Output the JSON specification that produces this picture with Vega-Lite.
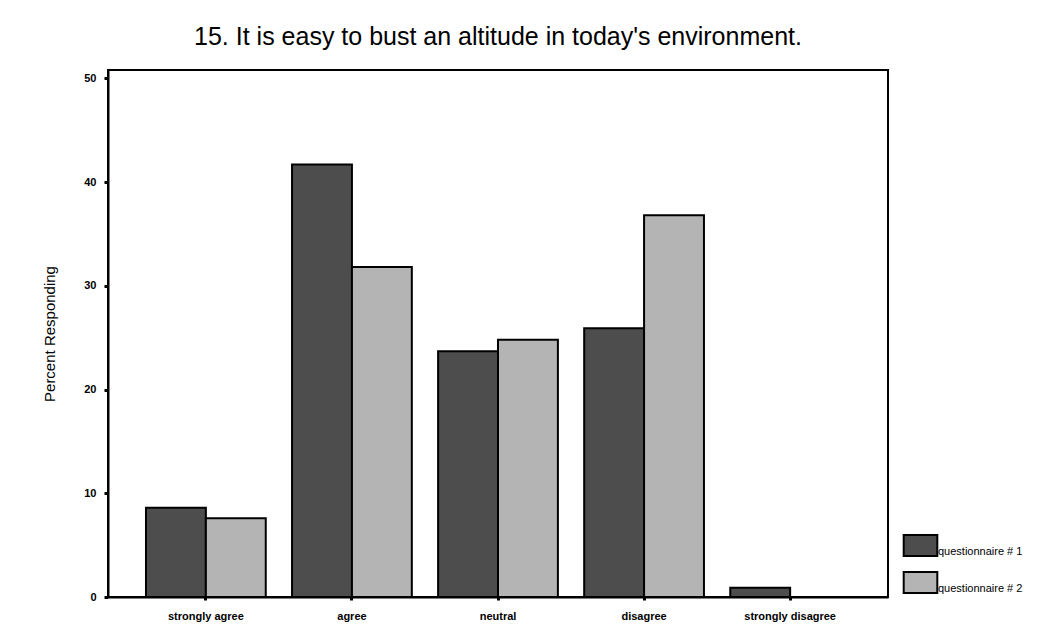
{
  "$schema": "https://vega.github.io/schema/vega-lite/v6.json",
  "autosize": "none",
  "width": 780,
  "height": 527,
  "padding": {"left": 108, "top": 70, "right": 164, "bottom": 42},
  "background": "white",
  "config": {
    "font": "Liberation Sans",
    "view": {"stroke": "black", "strokeWidth": 2}
  },
  "title": {
    "text": "15.  It is easy to bust an altitude in today's environment.",
    "fontSize": 25,
    "fontWeight": "normal",
    "font": "Liberation Sans",
    "color": "black",
    "anchor": "middle",
    "offset": 20
  },
  "data": {
    "values": [
      {"response": "strongly agree", "series": "questionnaire # 1", "pct": 8.6},
      {"response": "strongly agree", "series": "questionnaire # 2", "pct": 7.6},
      {"response": "agree", "series": "questionnaire # 1", "pct": 41.7},
      {"response": "agree", "series": "questionnaire # 2", "pct": 31.8},
      {"response": "neutral", "series": "questionnaire # 1", "pct": 23.7},
      {"response": "neutral", "series": "questionnaire # 2", "pct": 24.8},
      {"response": "disagree", "series": "questionnaire # 1", "pct": 25.9},
      {"response": "disagree", "series": "questionnaire # 2", "pct": 36.8},
      {"response": "strongly disagree", "series": "questionnaire # 1", "pct": 0.9},
      {"response": "strongly disagree", "series": "questionnaire # 2", "pct": 0}
    ]
  },
  "mark": {"type": "bar", "stroke": "black", "strokeWidth": 2},
  "encoding": {
    "x": {
      "field": "response",
      "type": "nominal",
      "sort": ["strongly agree", "agree", "neutral", "disagree", "strongly disagree"],
      "scale": {"paddingInner": 0.18, "paddingOuter": 0.26},
      "axis": {
        "title": null,
        "labelAngle": 0,
        "labelFontSize": 11,
        "labelFontWeight": "bold",
        "labelColor": "black",
        "labelPadding": 10,
        "tickColor": "black",
        "tickSize": 3,
        "tickWidth": 3,
        "domainColor": "black",
        "domainWidth": 2
      }
    },
    "xOffset": {"field": "series", "type": "nominal", "scale": {"paddingInner": 0, "paddingOuter": 0}},
    "y": {
      "field": "pct",
      "type": "quantitative",
      "scale": {"domain": [0, 50.8], "nice": false},
      "axis": {
        "title": "Percent Responding",
        "titleFontSize": 15,
        "titleFontWeight": "normal",
        "titleColor": "black",
        "titlePadding": 26,
        "values": [0, 10, 20, 30, 40, 50],
        "grid": false,
        "labelFontSize": 11,
        "labelFontWeight": "bold",
        "labelColor": "black",
        "labelPadding": 8,
        "tickColor": "black",
        "tickSize": 4,
        "tickWidth": 3,
        "domainColor": "black",
        "domainWidth": 2
      }
    },
    "fill": {
      "field": "series",
      "type": "nominal",
      "scale": {"range": ["#4d4d4d", "#b4b4b4"]},
      "legend": {
        "title": null,
        "orient": "none",
        "legendX": 801,
        "legendY": 464,
        "symbolType": "M-1.6,-1H1.6V1H-1.6Z",
        "symbolSize": 441,
        "symbolStrokeColor": "black",
        "symbolStrokeWidth": 2,
        "labelFontSize": 11,
        "labelColor": "black",
        "labelOffset": 6,
        "labelBaseline": "top",
        "rowPadding": 8
      }
    }
  }
}
